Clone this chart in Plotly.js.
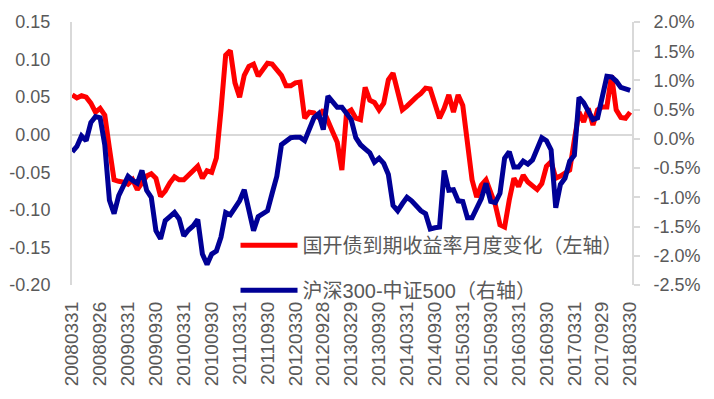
<!DOCTYPE html>
<html><head><meta charset="utf-8">
<script src="https://cdn.plot.ly/plotly-3.0.1.min.js"></script>
<style>html,body{margin:0;padding:0;background:#fff}#chart{width:714px;height:399px}</style>
</head><body><div id="chart"></div>
<script>
// X tick labels (every 6th monthly observation)
const tickLabels = ["20080331","20080926","20090331","20090930","20100331","20100930","20110331","20110930","20120330","20120928","20130329","20130930","20140331","20140930","20150331","20150930","20160331","20160930","20170331","20170929","20180330"];

// 国开债到期收益率月度变化 (left axis)
const bondYieldChange = [
 0.053,0.049,0.052,0.050,0.042,0.030,0.035,0.026,-0.018,-0.060,
 -0.062,-0.063,-0.066,-0.060,-0.073,-0.063,-0.055,-0.052,-0.058,-0.082,
 -0.075,-0.064,-0.056,-0.060,-0.060,-0.054,-0.047,-0.042,-0.058,-0.048,
 -0.050,-0.031,0.033,0.106,0.112,0.069,0.050,0.079,0.091,0.094,
 0.078,0.086,0.095,0.094,0.086,0.079,0.065,0.065,0.069,0.070,
 0.022,0.030,0.029,0.023,0.033,0.017,0.004,-0.010,-0.047,0.029,
 0.033,0.022,0.020,0.063,0.046,0.043,0.033,0.042,0.073,0.082,
 0.059,0.033,0.038,0.045,0.050,0.055,0.062,0.061,0.042,0.022,
 0.035,0.053,0.030,0.053,0.039,-0.005,-0.060,-0.083,-0.067,-0.060,
 -0.076,-0.093,-0.120,-0.123,-0.087,-0.058,-0.069,-0.054,-0.063,-0.069,
 -0.073,-0.065,-0.042,-0.036,-0.058,-0.055,-0.050,-0.047,-0.007,0.030,
 0.017,0.035,0.013,0.033,0.037,0.037,0.079,0.033,0.023,0.022,
 0.030
];

// 沪深300-中证500 (right axis, %)
const hs300MinusZz500 = [
 -0.22,-0.13,0.05,-0.03,0.28,0.38,0.36,-0.10,-1.05,-1.28,
 -0.97,-0.81,-0.64,-0.71,-0.76,-0.54,-0.88,-1.00,-1.57,-1.71,
 -1.40,-1.33,-1.26,-1.37,-1.66,-1.56,-1.49,-1.38,-1.97,-2.15,
 -1.97,-1.92,-1.68,-1.26,-1.30,-1.18,-1.06,-0.87,-1.23,-1.57,
 -1.33,-1.28,-1.23,-0.93,-0.64,-0.10,-0.03,0.02,0.03,0.03,
 -0.03,0.19,0.36,0.43,0.16,0.73,0.64,0.54,0.54,0.45,
 0.33,0.02,-0.10,-0.17,-0.24,-0.40,-0.33,-0.42,-0.61,-1.14,
 -1.23,-1.11,-1.00,-1.06,-1.16,-1.23,-1.28,-1.54,-1.52,-1.51,
 -0.54,-0.88,-0.87,-1.06,-1.07,-1.35,-1.35,-1.19,-1.02,-0.76,
 -1.07,-1.09,-0.93,-0.33,-0.22,-0.48,-0.48,-0.38,-0.43,-0.36,
 -0.14,0.02,-0.03,-0.19,-1.18,-0.78,-0.67,-0.38,-0.28,0.71,
 0.62,0.47,0.33,0.36,0.73,1.07,1.06,0.99,0.88,0.85,
 0.83
];

const leftTickVals = [-0.20,-0.15,-0.10,-0.05,0.00,0.05,0.10,0.15];
const leftTickText = ["-0.20","-0.15","-0.10","-0.05","0.00","0.05","0.10","0.15"];
const rightTickVals = [-2.5,-2.0,-1.5,-1.0,-0.5,0.0,0.5,1.0,1.5,2.0];
const rightTickText = ["-2.5%","-2.0%","-1.5%","-1.0%","-0.5%","0.0%","0.5%","1.0%","1.5%","2.0%"];

const seriesNames = ["国开债到期收益率月度变化（左轴）", "沪深300-中证500（右轴）"];

const monthIdx = bondYieldChange.map((_, i) => i);
const tickIdx = tickLabels.map((_, i) => i * 6);

const grey = '#595959';
const axisGrey = '#d9d9d9';

const traces = [
  {x: monthIdx, y: bondYieldChange, name: seriesNames[0], type: 'scatter', mode: 'lines',
   line: {color: '#FF0000', width: 5, shape: 'linear'}, yaxis: 'y', legendgroup: 'a', hoverinfo: 'skip'},
  {x: monthIdx, y: hs300MinusZz500, name: seriesNames[1], type: 'scatter', mode: 'lines',
   line: {color: '#000096', width: 5, shape: 'linear'}, yaxis: 'y2', legendgroup: 'b', hoverinfo: 'skip'}
];

const layout = {
  width: 714, height: 399,
  margin: {l: 72, r: 82, t: 22, b: 114},
  paper_bgcolor: '#fff', plot_bgcolor: '#fff',
  showlegend: true,
  xaxis: {
    range: [-0.05, 120.4], tickmode: 'array', tickvals: tickIdx, ticktext: tickLabels,
    tickangle: -90, showgrid: false, zeroline: false, showline: false, ticks: '',
    ticklabelstandoff: 12,
    tickfont: {family: 'Liberation Sans, Arial, sans-serif', size: 19, color: grey}
  },
  yaxis: {
    range: [-0.20, 0.15], tickmode: 'array', tickvals: leftTickVals, ticktext: leftTickText,
    showgrid: false, zeroline: true, zerolinecolor: axisGrey, zerolinewidth: 2,
    showline: true, linecolor: axisGrey, linewidth: 2, ticks: '',
    ticklabelstandoff: 16,
    tickfont: {family: 'Liberation Sans, Arial, sans-serif', size: 18, color: grey}
  },
  yaxis2: {
    overlaying: 'y', side: 'right', range: [-2.5, 2.0], tickmode: 'array',
    tickvals: rightTickVals, ticktext: rightTickText,
    showgrid: false, zeroline: false, showline: true, linecolor: axisGrey, linewidth: 2,
    ticks: 'outside', ticklen: 6, tickwidth: 2, tickcolor: axisGrey,
    ticklabelstandoff: 10,
    tickfont: {family: 'Liberation Sans, Arial, sans-serif', size: 18, color: grey}
  },
  legend: {
    x: 0.292, y: 0.225, xanchor: 'left', yanchor: 'top',
    bgcolor: 'rgba(0,0,0,0)', borderwidth: 0,
    font: {family: 'Liberation Sans, Noto Sans CJK SC, sans-serif', size: 20, color: grey},
    itemwidth: 57, traceorder: 'grouped', tracegroupgap: 16
  }
};

Plotly.newPlot('chart', traces, layout, {displayModeBar: false, staticPlot: true});
</script>
</body></html>
